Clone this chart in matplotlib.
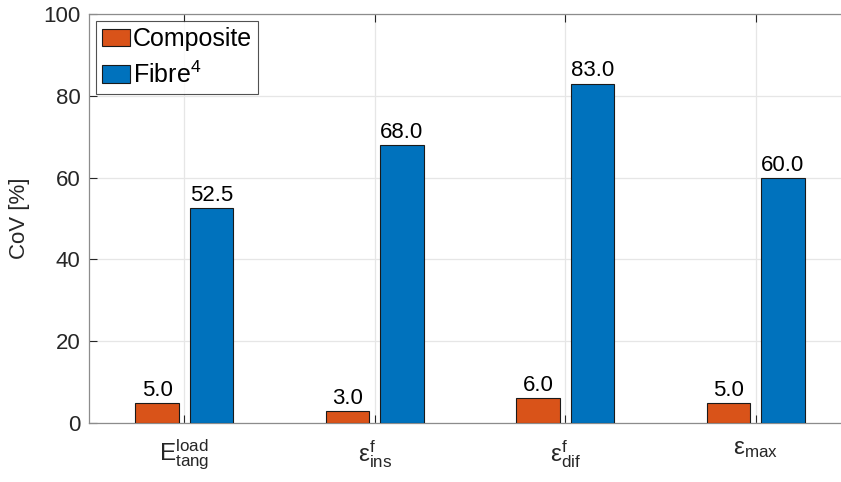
import matplotlib
matplotlib.use("Agg")
import matplotlib.pyplot as plt
import numpy as np

plt.rcParams['font.family'] = ['Liberation Sans', 'DejaVu Sans']
plt.rcParams['mathtext.default'] = 'regular'

categories = [r'$E_{tang}^{load}$', r'$ε_{ins}^{f}$', r'$ε_{dif}^{f}$', r'$ε_{max}$']
composite = [5.0, 3.0, 6.0, 5.0]
fibre = [52.5, 68.0, 83.0, 60.0]
series_names = ['Composite', r'Fibre$^{4}$']
yticks = [0, 20, 40, 60, 80, 100]

c_orange = '#D95319'
c_blue = '#0072BD'

fig = plt.figure(figsize=(8.41, 4.82), dpi=100)
ax = fig.add_axes([89/841, 59/482, 762/841, 409/482])

x = np.arange(1, len(categories) + 1)
w = 0.23
off = 0.143
b1 = ax.bar(x - off, composite, w, color=c_orange, edgecolor='#1a1a1a', linewidth=0.8, label=series_names[0], zorder=3)
b2 = ax.bar(x + off, fibre, w, color=c_blue, edgecolor='#1a1a1a', linewidth=0.8, label=series_names[1], zorder=3)

for bars, vals in ((b1, composite), (b2, fibre)):
    for rect, v in zip(bars, vals):
        ax.text(rect.get_x() + rect.get_width()/2, v + 0.5, f'{v:.1f}',
                ha='center', va='bottom', fontsize=16, color='black', zorder=4)

ax.set_xlim(0.5, 4.5)
ax.set_ylim(0, 100)
ax.set_xticks(x)
ax.set_xticklabels(categories, fontsize=17.5)
ax.set_yticks(yticks)
ax.set_yticklabels([str(t) for t in yticks], fontsize=16)
ax.set_ylabel('CoV [%]', fontsize=16, color='#262626', labelpad=10)

ax.grid(True, color='#e6e6e6', linewidth=0.9, zorder=0)
ax.set_axisbelow(True)
for s in ax.spines.values():
    s.set_color('#8c8c8c')
    s.set_linewidth(0.9)
ax.tick_params(direction='in', length=5.5, width=0.8, color='#262626',
               top=True, right=True, labelcolor='#262626', pad=6)
ax.tick_params(axis='x', pad=11)

leg = ax.legend(loc='upper left', bbox_to_anchor=(7/762, 402/409), borderaxespad=0,
                fontsize=18, frameon=True, fancybox=False, handlelength=1.1,
                handleheight=0.7, handletextpad=0.12, borderpad=0.25, labelspacing=0.4)
leg.get_frame().set_edgecolor('#262626')
leg.get_frame().set_linewidth(0.8)

fig.savefig('out.png', dpi=100)
